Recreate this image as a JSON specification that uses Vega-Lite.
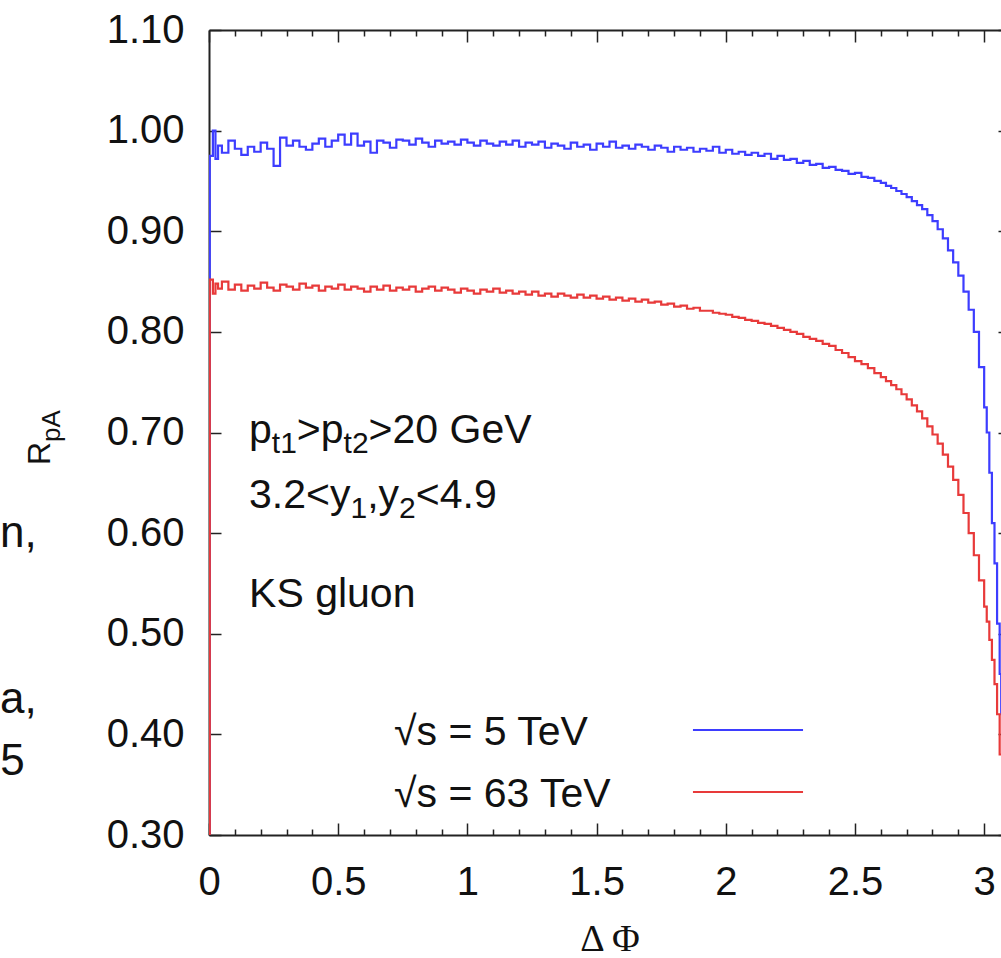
{
  "$schema": "https://vega.github.io/schema/vega-lite/v6.json",
  "width": 801,
  "height": 805,
  "autosize": {"type": "none"},
  "padding": {"left": 209, "top": 30, "right": -9, "bottom": 123},
  "background": "white",
  "config": {
    "view": {"stroke": null},
    "axis": {"grid": false, "domainColor": "#222", "domainWidth": 2, "tickColor": "#222", "tickWidth": 1.5, "labelFont": "Liberation Sans", "labelFontSize": 40, "labelColor": "#111", "labelFlush": false, "labelOverlap": false},
    "text": {"font": "Liberation Sans", "fontSize": 41, "color": "#111", "align": "left", "baseline": "alphabetic"}
  },
  "resolve": {"axis": {"x": "independent", "y": "independent"}},
  "layer": [
    {
      "data": {"values": [
        {"s":"5","x":0,"y":0.2},{"s":"5","x":0.003,"y":0.975},{"s":"5","x":0.015,"y":1.0},{"s":"5","x":0.025,"y":0.972},{"s":"5","x":0.035,"y":0.985},{"s":"5","x":0.05,"y":0.978},{"s":"5","x":0.075,"y":0.99},{"s":"5","x":0.1,"y":0.982},{"s":"5","x":0.125,"y":0.976},{"s":"5","x":0.15,"y":0.984},{"s":"5","x":0.175,"y":0.979},{"s":"5","x":0.2,"y":0.988},{"s":"5","x":0.225,"y":0.982},{"s":"5","x":0.25,"y":0.965},{"s":"5","x":0.275,"y":0.993},{"s":"5","x":0.3,"y":0.985},{"s":"5","x":0.325,"y":0.99},{"s":"5","x":0.35,"y":0.984},{"s":"5","x":0.375,"y":0.981},{"s":"5","x":0.4,"y":0.987},{"s":"5","x":0.425,"y":0.992},{"s":"5","x":0.45,"y":0.984},{"s":"5","x":0.475,"y":0.99},{"s":"5","x":0.5,"y":0.996},{"s":"5","x":0.525,"y":0.986},{"s":"5","x":0.55,"y":0.997},{"s":"5","x":0.575,"y":0.985},{"s":"5","x":0.6,"y":0.989},{"s":"5","x":0.625,"y":0.978},{"s":"5","x":0.65,"y":0.99},{"s":"5","x":0.675,"y":0.988},{"s":"5","x":0.7,"y":0.983},{"s":"5","x":0.725,"y":0.991},{"s":"5","x":0.75,"y":0.99},{"s":"5","x":0.775,"y":0.986},{"s":"5","x":0.8,"y":0.992},{"s":"5","x":0.825,"y":0.988},{"s":"5","x":0.85,"y":0.984},{"s":"5","x":0.875,"y":0.99},{"s":"5","x":0.9,"y":0.987},{"s":"5","x":0.925,"y":0.989},{"s":"5","x":0.95,"y":0.986},{"s":"5","x":0.975,"y":0.991},{"s":"5","x":1.0,"y":0.988},{"s":"5","x":1.025,"y":0.985},{"s":"5","x":1.05,"y":0.99},{"s":"5","x":1.075,"y":0.987},{"s":"5","x":1.1,"y":0.985},{"s":"5","x":1.125,"y":0.989},{"s":"5","x":1.15,"y":0.986},{"s":"5","x":1.175,"y":0.99},{"s":"5","x":1.2,"y":0.984},{"s":"5","x":1.225,"y":0.988},{"s":"5","x":1.25,"y":0.986},{"s":"5","x":1.275,"y":0.989},{"s":"5","x":1.3,"y":0.983},{"s":"5","x":1.325,"y":0.987},{"s":"5","x":1.35,"y":0.985},{"s":"5","x":1.375,"y":0.982},{"s":"5","x":1.4,"y":0.988},{"s":"5","x":1.425,"y":0.984},{"s":"5","x":1.45,"y":0.986},{"s":"5","x":1.475,"y":0.981},{"s":"5","x":1.5,"y":0.987},{"s":"5","x":1.525,"y":0.984},{"s":"5","x":1.55,"y":0.989},{"s":"5","x":1.575,"y":0.983},{"s":"5","x":1.6,"y":0.985},{"s":"5","x":1.625,"y":0.982},{"s":"5","x":1.65,"y":0.986},{"s":"5","x":1.675,"y":0.984},{"s":"5","x":1.7,"y":0.981},{"s":"5","x":1.725,"y":0.985},{"s":"5","x":1.75,"y":0.983},{"s":"5","x":1.775,"y":0.979},{"s":"5","x":1.8,"y":0.984},{"s":"5","x":1.825,"y":0.981},{"s":"5","x":1.85,"y":0.983},{"s":"5","x":1.875,"y":0.979},{"s":"5","x":1.9,"y":0.982},{"s":"5","x":1.925,"y":0.98},{"s":"5","x":1.95,"y":0.984},{"s":"5","x":1.975,"y":0.978},{"s":"5","x":2.0,"y":0.981},{"s":"5","x":2.025,"y":0.977},{"s":"5","x":2.05,"y":0.979},{"s":"5","x":2.075,"y":0.976},{"s":"5","x":2.1,"y":0.978},{"s":"5","x":2.125,"y":0.975},{"s":"5","x":2.15,"y":0.977},{"s":"5","x":2.175,"y":0.972},{"s":"5","x":2.2,"y":0.975},{"s":"5","x":2.225,"y":0.971},{"s":"5","x":2.25,"y":0.972},{"s":"5","x":2.275,"y":0.968},{"s":"5","x":2.3,"y":0.97},{"s":"5","x":2.325,"y":0.966},{"s":"5","x":2.35,"y":0.967},{"s":"5","x":2.375,"y":0.963},{"s":"5","x":2.4,"y":0.964},{"s":"5","x":2.425,"y":0.961},{"s":"5","x":2.45,"y":0.96},{"s":"5","x":2.475,"y":0.957},{"s":"5","x":2.5,"y":0.958},{"s":"5","x":2.525,"y":0.954},{"s":"5","x":2.55,"y":0.953},{"s":"5","x":2.575,"y":0.95},{"s":"5","x":2.6,"y":0.948},{"s":"5","x":2.62,"y":0.945},{"s":"5","x":2.64,"y":0.943},{"s":"5","x":2.66,"y":0.94},{"s":"5","x":2.68,"y":0.937},{"s":"5","x":2.7,"y":0.934},{"s":"5","x":2.72,"y":0.93},{"s":"5","x":2.74,"y":0.926},{"s":"5","x":2.76,"y":0.922},{"s":"5","x":2.78,"y":0.916},{"s":"5","x":2.8,"y":0.91},{"s":"5","x":2.82,"y":0.902},{"s":"5","x":2.84,"y":0.893},{"s":"5","x":2.86,"y":0.881},{"s":"5","x":2.88,"y":0.869},{"s":"5","x":2.9,"y":0.856},{"s":"5","x":2.92,"y":0.84},{"s":"5","x":2.94,"y":0.822},{"s":"5","x":2.96,"y":0.8},{"s":"5","x":2.98,"y":0.765},{"s":"5","x":3.0,"y":0.725},{"s":"5","x":3.01,"y":0.7},{"s":"5","x":3.02,"y":0.66},{"s":"5","x":3.03,"y":0.61},{"s":"5","x":3.04,"y":0.57},{"s":"5","x":3.05,"y":0.51},{"s":"5","x":3.06,"y":0.46},{"s":"5","x":3.066,"y":0.42},{"s":"5","x":3.08,"y":0.36},{"s":"5","x":3.09,"y":0.32},{"s":"5","x":3.1,"y":0.27},{"s":"5","x":3.12,"y":0.2},{"s":"5","x":3.14,"y":0.15},
        {"s":"63","x":0,"y":0.2},{"s":"63","x":0.003,"y":0.852},{"s":"63","x":0.015,"y":0.838},{"s":"63","x":0.025,"y":0.848},{"s":"63","x":0.035,"y":0.843},{"s":"63","x":0.05,"y":0.85},{"s":"63","x":0.075,"y":0.842},{"s":"63","x":0.1,"y":0.847},{"s":"63","x":0.125,"y":0.841},{"s":"63","x":0.15,"y":0.846},{"s":"63","x":0.175,"y":0.843},{"s":"63","x":0.2,"y":0.849},{"s":"63","x":0.225,"y":0.844},{"s":"63","x":0.25,"y":0.841},{"s":"63","x":0.275,"y":0.847},{"s":"63","x":0.3,"y":0.845},{"s":"63","x":0.325,"y":0.842},{"s":"63","x":0.35,"y":0.848},{"s":"63","x":0.375,"y":0.844},{"s":"63","x":0.4,"y":0.846},{"s":"63","x":0.425,"y":0.841},{"s":"63","x":0.45,"y":0.845},{"s":"63","x":0.475,"y":0.843},{"s":"63","x":0.5,"y":0.847},{"s":"63","x":0.525,"y":0.842},{"s":"63","x":0.55,"y":0.845},{"s":"63","x":0.575,"y":0.843},{"s":"63","x":0.6,"y":0.84},{"s":"63","x":0.625,"y":0.845},{"s":"63","x":0.65,"y":0.842},{"s":"63","x":0.675,"y":0.846},{"s":"63","x":0.7,"y":0.841},{"s":"63","x":0.725,"y":0.844},{"s":"63","x":0.75,"y":0.842},{"s":"63","x":0.775,"y":0.845},{"s":"63","x":0.8,"y":0.84},{"s":"63","x":0.825,"y":0.843},{"s":"63","x":0.85,"y":0.845},{"s":"63","x":0.875,"y":0.841},{"s":"63","x":0.9,"y":0.844},{"s":"63","x":0.925,"y":0.842},{"s":"63","x":0.95,"y":0.839},{"s":"63","x":0.975,"y":0.843},{"s":"63","x":1.0,"y":0.841},{"s":"63","x":1.025,"y":0.838},{"s":"63","x":1.05,"y":0.842},{"s":"63","x":1.075,"y":0.84},{"s":"63","x":1.1,"y":0.843},{"s":"63","x":1.125,"y":0.839},{"s":"63","x":1.15,"y":0.841},{"s":"63","x":1.175,"y":0.838},{"s":"63","x":1.2,"y":0.84},{"s":"63","x":1.225,"y":0.837},{"s":"63","x":1.25,"y":0.84},{"s":"63","x":1.275,"y":0.836},{"s":"63","x":1.3,"y":0.838},{"s":"63","x":1.325,"y":0.835},{"s":"63","x":1.35,"y":0.838},{"s":"63","x":1.375,"y":0.836},{"s":"63","x":1.4,"y":0.834},{"s":"63","x":1.425,"y":0.837},{"s":"63","x":1.45,"y":0.834},{"s":"63","x":1.475,"y":0.836},{"s":"63","x":1.5,"y":0.833},{"s":"63","x":1.525,"y":0.835},{"s":"63","x":1.55,"y":0.832},{"s":"63","x":1.575,"y":0.834},{"s":"63","x":1.6,"y":0.831},{"s":"63","x":1.625,"y":0.833},{"s":"63","x":1.65,"y":0.83},{"s":"63","x":1.675,"y":0.832},{"s":"63","x":1.7,"y":0.829},{"s":"63","x":1.725,"y":0.83},{"s":"63","x":1.75,"y":0.827},{"s":"63","x":1.775,"y":0.828},{"s":"63","x":1.8,"y":0.825},{"s":"63","x":1.825,"y":0.826},{"s":"63","x":1.85,"y":0.823},{"s":"63","x":1.875,"y":0.824},{"s":"63","x":1.9,"y":0.821},{"s":"63","x":1.925,"y":0.821},{"s":"63","x":1.95,"y":0.819},{"s":"63","x":1.975,"y":0.818},{"s":"63","x":2.0,"y":0.817},{"s":"63","x":2.025,"y":0.815},{"s":"63","x":2.05,"y":0.814},{"s":"63","x":2.075,"y":0.812},{"s":"63","x":2.1,"y":0.811},{"s":"63","x":2.125,"y":0.809},{"s":"63","x":2.15,"y":0.808},{"s":"63","x":2.175,"y":0.806},{"s":"63","x":2.2,"y":0.804},{"s":"63","x":2.225,"y":0.802},{"s":"63","x":2.25,"y":0.8},{"s":"63","x":2.275,"y":0.798},{"s":"63","x":2.3,"y":0.795},{"s":"63","x":2.325,"y":0.793},{"s":"63","x":2.35,"y":0.791},{"s":"63","x":2.375,"y":0.788},{"s":"63","x":2.4,"y":0.786},{"s":"63","x":2.425,"y":0.782},{"s":"63","x":2.45,"y":0.779},{"s":"63","x":2.475,"y":0.775},{"s":"63","x":2.5,"y":0.771},{"s":"63","x":2.525,"y":0.768},{"s":"63","x":2.55,"y":0.764},{"s":"63","x":2.575,"y":0.759},{"s":"63","x":2.6,"y":0.755},{"s":"63","x":2.62,"y":0.751},{"s":"63","x":2.64,"y":0.747},{"s":"63","x":2.66,"y":0.743},{"s":"63","x":2.68,"y":0.738},{"s":"63","x":2.7,"y":0.733},{"s":"63","x":2.72,"y":0.727},{"s":"63","x":2.74,"y":0.721},{"s":"63","x":2.76,"y":0.714},{"s":"63","x":2.78,"y":0.706},{"s":"63","x":2.8,"y":0.698},{"s":"63","x":2.82,"y":0.689},{"s":"63","x":2.84,"y":0.678},{"s":"63","x":2.86,"y":0.666},{"s":"63","x":2.88,"y":0.653},{"s":"63","x":2.9,"y":0.638},{"s":"63","x":2.92,"y":0.62},{"s":"63","x":2.94,"y":0.6},{"s":"63","x":2.96,"y":0.578},{"s":"63","x":2.98,"y":0.553},{"s":"63","x":3.0,"y":0.527},{"s":"63","x":3.01,"y":0.512},{"s":"63","x":3.02,"y":0.494},{"s":"63","x":3.03,"y":0.474},{"s":"63","x":3.04,"y":0.45},{"s":"63","x":3.05,"y":0.42},{"s":"63","x":3.06,"y":0.38},{"s":"63","x":3.07,"y":0.34},{"s":"63","x":3.08,"y":0.3},{"s":"63","x":3.1,"y":0.25},{"s":"63","x":3.14,"y":0.2}
      ]},
      "mark": {"type": "line", "interpolate": "step-after", "clip": true, "strokeWidth": 2.2},
      "encoding": {
        "x": {"field": "x", "type": "quantitative", "scale": {"domain": [0, 3.1], "nice": false, "zero": false},
          "axis": {"orient": "bottom", "values": [0, 0.5, 1, 1.5, 2, 2.5, 3], "format": "~g", "tickSize": -12, "labelPadding": 39, "title": "Δ Φ", "titleFont": "Liberation Serif", "titleFontSize": 38, "titleFontWeight": "normal", "titleColor": "#111", "titlePadding": 18}},
        "y": {"field": "y", "type": "quantitative", "scale": {"domain": [0.3, 1.1], "nice": false, "zero": false},
          "axis": {"orient": "left", "values": [0.3, 0.4, 0.5, 0.6, 0.7, 0.8, 0.9, 1.0, 1.1], "format": ".2f", "tickSize": -12, "labelPadding": 37, "title": null}},
        "color": {"field": "s", "type": "nominal", "scale": {"domain": ["5", "63"], "range": ["#3d3dff", "#e83a3a"]}, "legend": null}
      }
    },
    {
      "data": {"values": [{}]},
      "mark": {"type": "text"},
      "encoding": {
        "x": {"datum": 0.155, "type": "quantitative", "axis": {"orient": "top", "values": [0, 0.5, 1, 1.5, 2, 2.5, 3], "tickSize": -12, "labels": false, "title": null}},
        "y": {"datum": 0.6896, "type": "quantitative", "axis": {"orient": "right", "values": [0.3, 0.4, 0.5, 0.6, 0.7, 0.8, 0.9, 1.0, 1.1], "tickSize": -12, "labels": false, "title": null}},
        "text": {"value": "p"}
      }
    },
    {
      "data": {"values": [{}]},
      "mark": {"type": "text", "fontSize": 30, "dx": 22.8, "dy": 10},
      "encoding": {
        "x": {"datum": 0.155, "type": "quantitative", "axis": {"orient": "bottom", "values": [0.1, 0.2, 0.3, 0.4, 0.6, 0.7, 0.8, 0.9, 1.1, 1.2, 1.3, 1.4, 1.6, 1.7, 1.8, 1.9, 2.1, 2.2, 2.3, 2.4, 2.6, 2.7, 2.8, 2.9], "tickSize": -6, "labels": false, "domain": false, "title": null}},
        "y": {"datum": 0.6896, "type": "quantitative", "axis": null},
        "text": {"value": "t1"}
      }
    },
    {
      "data": {"values": [{}]},
      "mark": {"type": "text", "dx": 47.8},
      "encoding": {
        "x": {"datum": 0.155, "type": "quantitative", "axis": {"orient": "top", "values": [0.1, 0.2, 0.3, 0.4, 0.6, 0.7, 0.8, 0.9, 1.1, 1.2, 1.3, 1.4, 1.6, 1.7, 1.8, 1.9, 2.1, 2.2, 2.3, 2.4, 2.6, 2.7, 2.8, 2.9], "tickSize": -6, "labels": false, "domain": false, "title": null}},
        "y": {"datum": 0.6896, "type": "quantitative", "axis": null},
        "text": {"value": ">p"}
      }
    },
    {
      "data": {"values": [{}]},
      "mark": {"type": "text", "fontSize": 30, "dx": 94.5, "dy": 10},
      "encoding": {
        "x": {"datum": 0.155, "type": "quantitative", "axis": null},
        "y": {"datum": 0.6896, "type": "quantitative", "axis": null},
        "text": {"value": "t2"}
      }
    },
    {
      "data": {"values": [{}]},
      "mark": {"type": "text", "dx": 119.5},
      "encoding": {
        "x": {"datum": 0.155, "type": "quantitative", "axis": null},
        "y": {"datum": 0.6896, "type": "quantitative", "axis": null},
        "text": {"value": ">20 GeV"}
      }
    },
    {
      "data": {"values": [{}]},
      "mark": {"type": "text"},
      "encoding": {
        "x": {"datum": 0.155, "type": "quantitative", "axis": null},
        "y": {"datum": 0.625, "type": "quantitative", "axis": null},
        "text": {"value": "3.2<y"}
      }
    },
    {
      "data": {"values": [{}]},
      "mark": {"type": "text", "fontSize": 30, "dx": 101.4, "dy": 10},
      "encoding": {
        "x": {"datum": 0.155, "type": "quantitative", "axis": null},
        "y": {"datum": 0.625, "type": "quantitative", "axis": null},
        "text": {"value": "1"}
      }
    },
    {
      "data": {"values": [{}]},
      "mark": {"type": "text", "dx": 118.1},
      "encoding": {
        "x": {"datum": 0.155, "type": "quantitative", "axis": null},
        "y": {"datum": 0.625, "type": "quantitative", "axis": null},
        "text": {"value": ",y"}
      }
    },
    {
      "data": {"values": [{}]},
      "mark": {"type": "text", "fontSize": 30, "dx": 150, "dy": 10},
      "encoding": {
        "x": {"datum": 0.155, "type": "quantitative", "axis": null},
        "y": {"datum": 0.625, "type": "quantitative", "axis": null},
        "text": {"value": "2"}
      }
    },
    {
      "data": {"values": [{}]},
      "mark": {"type": "text", "dx": 166.7},
      "encoding": {
        "x": {"datum": 0.155, "type": "quantitative", "axis": null},
        "y": {"datum": 0.625, "type": "quantitative", "axis": null},
        "text": {"value": "<4.9"}
      }
    },
    {
      "data": {"values": [{}]},
      "mark": {"type": "text"},
      "encoding": {
        "x": {"datum": 0.155, "type": "quantitative", "axis": null},
        "y": {"datum": 0.5266, "type": "quantitative", "axis": null},
        "text": {"value": "KS gluon"}
      }
    },
    {
      "data": {"values": [{}]},
      "mark": {"type": "text"},
      "encoding": {
        "x": {"datum": 0.716, "type": "quantitative", "axis": null},
        "y": {"datum": 0.3894, "type": "quantitative", "axis": null},
        "text": {"value": "√s = 5 TeV"}
      }
    },
    {
      "data": {"values": [{}]},
      "mark": {"type": "text"},
      "encoding": {
        "x": {"datum": 0.716, "type": "quantitative", "axis": null},
        "y": {"datum": 0.3278, "type": "quantitative", "axis": null},
        "text": {"value": "√s = 63 TeV"}
      }
    },
    {
      "data": {"values": [{}]},
      "mark": {"type": "rule", "color": "#3d3dff", "strokeWidth": 2},
      "encoding": {
        "x": {"datum": 1.873, "type": "quantitative", "axis": null},
        "x2": {"datum": 2.299},
        "y": {"datum": 0.4043, "type": "quantitative", "axis": null}
      }
    },
    {
      "data": {"values": [{}]},
      "mark": {"type": "rule", "color": "#e83a3a", "strokeWidth": 2},
      "encoding": {
        "x": {"datum": 1.873, "type": "quantitative", "axis": null},
        "x2": {"datum": 2.299},
        "y": {"datum": 0.3427, "type": "quantitative", "axis": null}
      }
    },
    {
      "data": {"values": [{}]},
      "mark": {"type": "text", "angle": 270, "fontSize": 32},
      "encoding": {
        "x": {"datum": -0.615, "type": "quantitative", "axis": null},
        "y": {"datum": 0.6677, "type": "quantitative", "axis": null},
        "text": {"value": "R"}
      }
    },
    {
      "data": {"values": [{}]},
      "mark": {"type": "text", "angle": 270, "fontSize": 26},
      "encoding": {
        "x": {"datum": -0.577, "type": "quantitative", "axis": null},
        "y": {"datum": 0.6906, "type": "quantitative", "axis": null},
        "text": {"value": "pA"}
      }
    },
    {
      "data": {"values": [{}]},
      "mark": {"type": "text", "fontSize": 44, "align": "right"},
      "encoding": {
        "x": {"datum": -0.667, "type": "quantitative", "axis": null},
        "y": {"datum": 0.5862, "type": "quantitative", "axis": null},
        "text": {"value": "n,"}
      }
    },
    {
      "data": {"values": [{}]},
      "mark": {"type": "text", "fontSize": 44, "align": "right"},
      "encoding": {
        "x": {"datum": -0.667, "type": "quantitative", "axis": null},
        "y": {"datum": 0.4213, "type": "quantitative", "axis": null},
        "text": {"value": "a,"}
      }
    },
    {
      "data": {"values": [{}]},
      "mark": {"type": "text", "fontSize": 44, "align": "right"},
      "encoding": {
        "x": {"datum": -0.713, "type": "quantitative", "axis": null},
        "y": {"datum": 0.3596, "type": "quantitative", "axis": null},
        "text": {"value": "5"}
      }
    }
  ]
}
